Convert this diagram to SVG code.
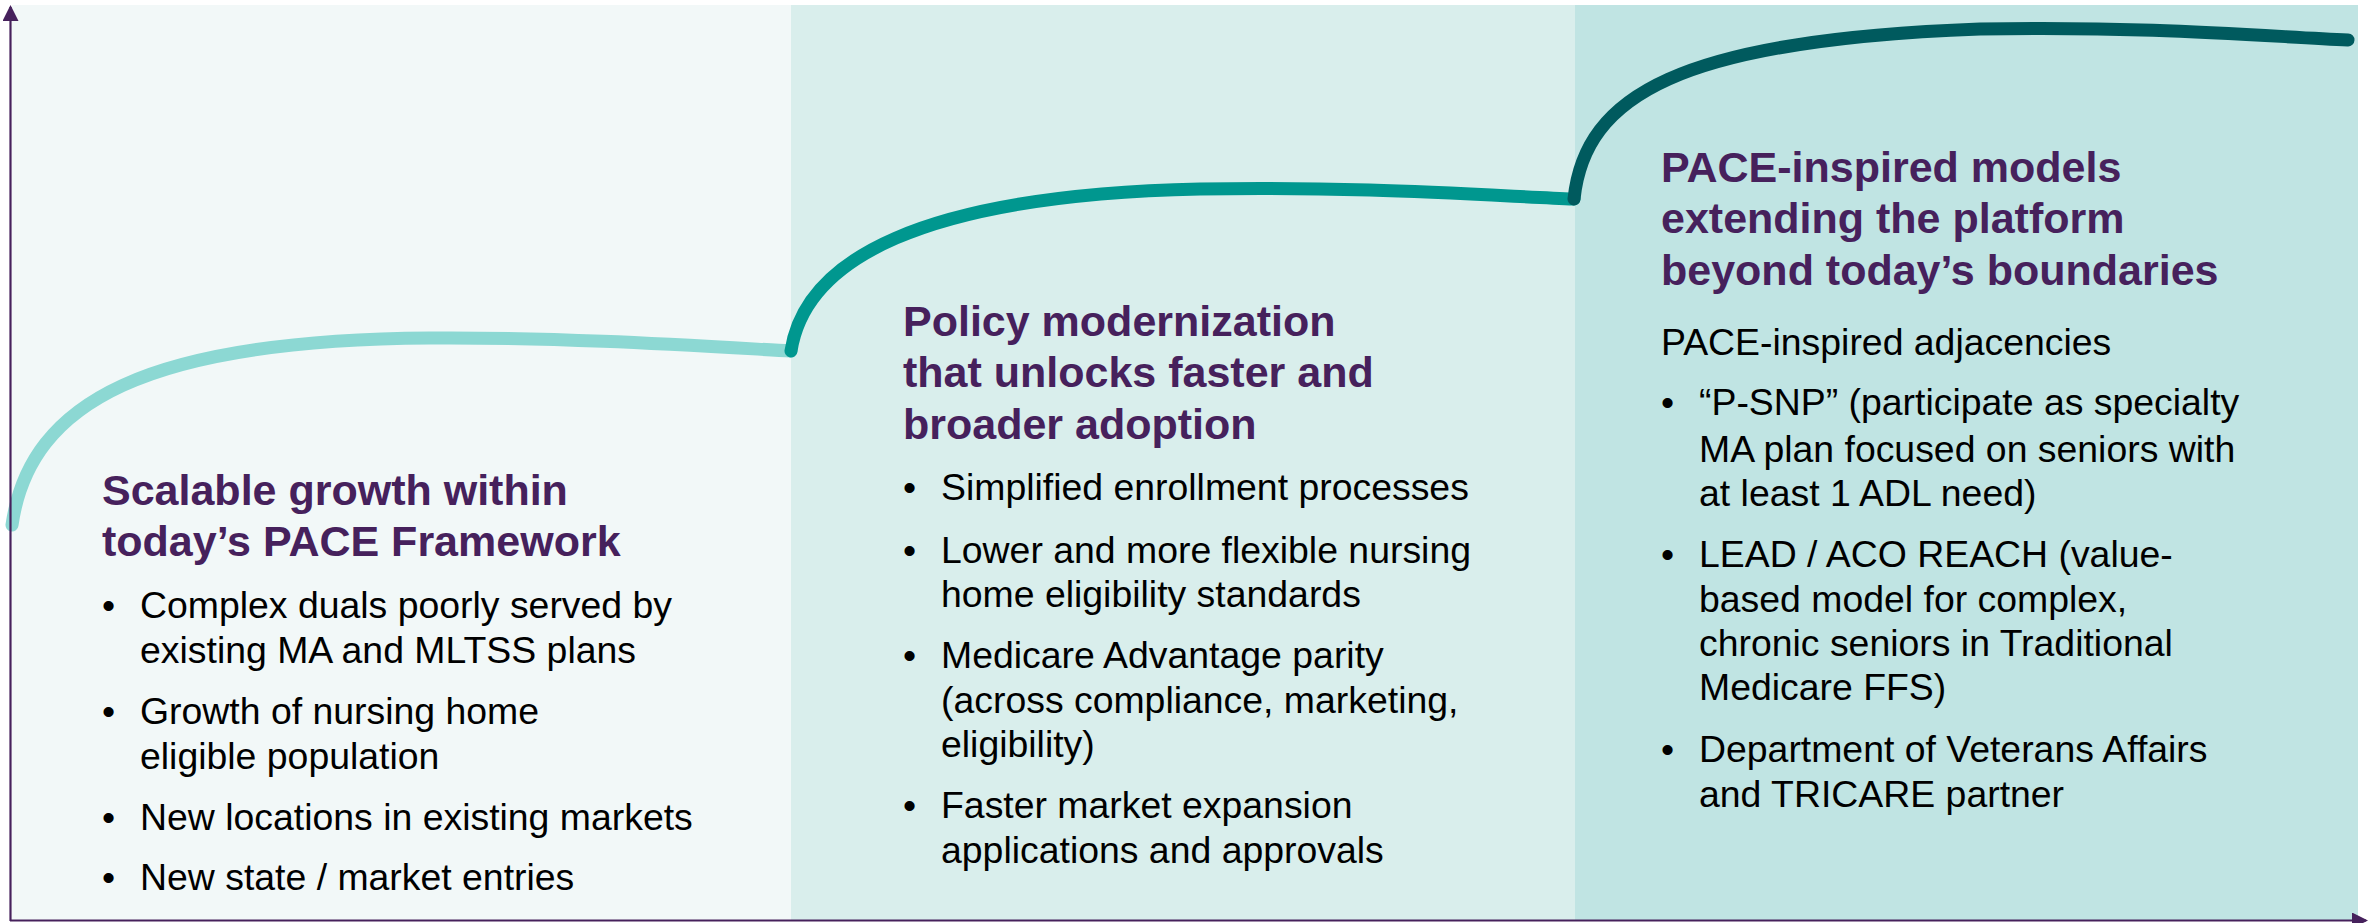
<svg xmlns="http://www.w3.org/2000/svg" width="2372" height="923" viewBox="0 0 2372 923">
  <style>
    .title { font-family: "Liberation Sans", Arial, sans-serif; font-weight: bold; font-size: 43px; fill: #46215C; }
    .body { font-family: "Liberation Sans", Arial, sans-serif; font-size: 37.4px; fill: #000000; }
    .curve { fill: none; stroke-width: 13; stroke-linecap: round; stroke-linejoin: round; }
    .axis { stroke: #46215C; stroke-width: 2.2; fill: none; }
  </style>
  <defs>
    <marker id="axis-head" viewBox="0 0 16 16" refX="14" refY="8" markerWidth="16" markerHeight="16" markerUnits="userSpaceOnUse" orient="auto">
      <path d="M0,0 L16,8 L0,16 Z" fill="#46215C"/>
    </marker>
  </defs>

  <rect x="0" y="0" width="2372" height="923" fill="#FFFFFF"/>

  <!-- stage backgrounds -->
  <g id="backgrounds">
    <rect x="12" y="5" width="779" height="916" fill="#F2F8F8"/>
    <rect x="791" y="5" width="784" height="916" fill="#D9EEEC"/>
    <rect x="1575" y="5" width="783" height="916" fill="#C0E4E3"/>
  </g>

  <!-- growth curves, one per stage -->
  <g id="growth-curves">
    <path class="curve" stroke="#8CD8D3" d="M12,525 C30,400 150,340 430,338 C560,337 700,346 791,351"/>
    <path class="curve" stroke="#00978F" d="M791,351 C805,260 920,195 1200,189 C1350,186 1480,195 1574,199"/>
    <path class="curve" stroke="#005A5E" d="M1574,199 C1585,95 1680,40 1980,29 C2150,26 2260,36 2348,40"/>
  </g>

  <!-- axes -->
  <g id="axes">
    <line class="axis" x1="10.5" y1="921" x2="10.5" y2="7" marker-end="url(#axis-head)"/>
    <line class="axis" x1="10" y1="920.5" x2="2366" y2="920.5" marker-end="url(#axis-head)"/>
  </g>

  <!-- stage 1 -->
  <g id="stage-1">
    <text class="title" x="102" y="505">Scalable growth within</text>
    <text class="title" x="102" y="556">today’s PACE Framework</text>
    <text class="body" x="102" y="618">•</text>
    <text class="body" x="140" y="618">Complex duals poorly served by</text>
    <text class="body" x="140" y="663">existing MA and MLTSS plans</text>
    <text class="body" x="102" y="724">•</text>
    <text class="body" x="140" y="724">Growth of nursing home</text>
    <text class="body" x="140" y="769">eligible population</text>
    <text class="body" x="102" y="830">•</text>
    <text class="body" x="140" y="830">New locations in existing markets</text>
    <text class="body" x="102" y="890">•</text>
    <text class="body" x="140" y="890">New state / market entries</text>
  </g>

  <!-- stage 2 -->
  <g id="stage-2">
    <text class="title" x="903" y="336">Policy modernization</text>
    <text class="title" x="903" y="387">that unlocks faster and</text>
    <text class="title" x="903" y="439">broader adoption</text>
    <text class="body" x="903" y="500">•</text>
    <text class="body" x="941" y="500">Simplified enrollment processes</text>
    <text class="body" x="903" y="563">•</text>
    <text class="body" x="941" y="563">Lower and more flexible nursing</text>
    <text class="body" x="941" y="607">home eligibility standards</text>
    <text class="body" x="903" y="668">•</text>
    <text class="body" x="941" y="668">Medicare Advantage parity</text>
    <text class="body" x="941" y="713">(across compliance, marketing,</text>
    <text class="body" x="941" y="757">eligibility)</text>
    <text class="body" x="903" y="818">•</text>
    <text class="body" x="941" y="818">Faster market expansion</text>
    <text class="body" x="941" y="863">applications and approvals</text>
  </g>

  <!-- stage 3 -->
  <g id="stage-3">
    <text class="title" x="1661" y="182">PACE-inspired models</text>
    <text class="title" x="1661" y="233">extending the platform</text>
    <text class="title" x="1661" y="285">beyond today’s boundaries</text>
    <text class="body" x="1661" y="355">PACE-inspired adjacencies</text>
    <text class="body" x="1661" y="415">•</text>
    <text class="body" x="1699" y="415">“P-SNP” (participate as specialty</text>
    <text class="body" x="1699" y="462">MA plan focused on seniors with</text>
    <text class="body" x="1699" y="506">at least 1 ADL need)</text>
    <text class="body" x="1661" y="567">•</text>
    <text class="body" x="1699" y="567">LEAD / ACO REACH (value-</text>
    <text class="body" x="1699" y="612">based model for complex,</text>
    <text class="body" x="1699" y="656">chronic seniors in Traditional</text>
    <text class="body" x="1699" y="700">Medicare FFS)</text>
    <text class="body" x="1661" y="762">•</text>
    <text class="body" x="1699" y="762">Department of Veterans Affairs</text>
    <text class="body" x="1699" y="807">and TRICARE partner</text>
  </g>
</svg>
